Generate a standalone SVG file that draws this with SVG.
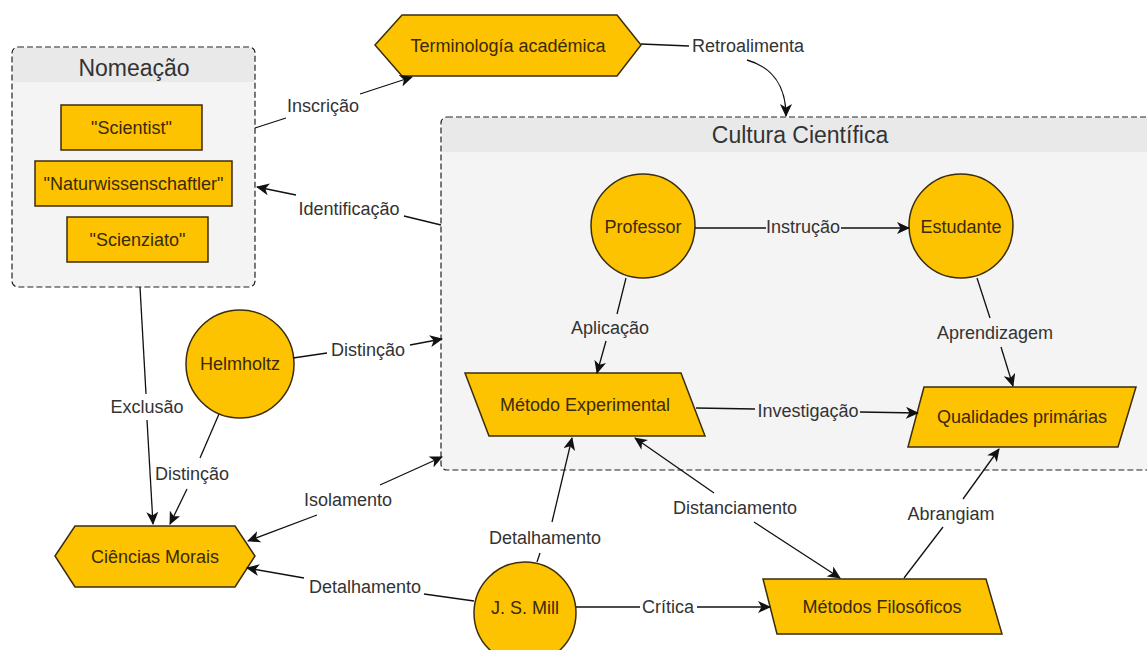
<svg xmlns="http://www.w3.org/2000/svg" width="1147" height="650" viewBox="0 0 1147 650">
<style>
.grp{fill:#f4f4f4;stroke:#222;stroke-width:1.2;stroke-dasharray:6 3}
.hdr{fill:#e9e9e9}
.title{font-family:"Liberation Sans",Arial,sans-serif;font-size:23px;fill:#333;text-anchor:middle}
.node{fill:#fdc300;stroke:#3a2d10;stroke-width:1.5}
.nt{font-family:"Liberation Sans",Arial,sans-serif;font-size:18px;fill:#3a2a08;text-anchor:middle;dominant-baseline:central}
.lbl{font-family:"Liberation Sans",Arial,sans-serif;font-size:18px;fill:#333;text-anchor:middle;dominant-baseline:central}
.e{fill:none;stroke:#111;stroke-width:1.3}
.a{marker-end:url(#arr)}
.s{marker-start:url(#arrs)}
</style>
<defs>
<marker id="arr" markerUnits="userSpaceOnUse" markerWidth="14" markerHeight="12" refX="12" refY="6" orient="auto"><path d="M0,0 L13,6 L0,12 L3.5,6 z" fill="#111"/></marker>
<marker id="arrs" markerUnits="userSpaceOnUse" markerWidth="14" markerHeight="12" refX="12" refY="6" orient="auto-start-reverse"><path d="M0,0 L13,6 L0,12 L3.5,6 z" fill="#111"/></marker>
</defs>
<rect width="1147" height="650" fill="#ffffff"/>

<g id="nomeacao">
<rect class="grp" x="12" y="47" width="243" height="240" rx="6"/>
<path class="hdr" d="M13,82 V53 Q13,48 18,48 H249 Q254,48 254,53 V82 Z"/>
<text class="title" x="134" y="76">Nomeação</text>
</g>
<g id="scientist"><rect class="node" x="61" y="105" width="141" height="45"/><text class="nt" x="131.5" y="127.5">"Scientist"</text></g>
<g id="naturwissenschaftler"><rect class="node" x="35" y="161" width="197" height="45"/><text class="nt" x="133.5" y="183.5">"Naturwissenschaftler"</text></g>
<g id="scienziato"><rect class="node" x="67" y="217" width="141" height="45"/><text class="nt" x="137.5" y="239.5">"Scienziato"</text></g>

<g id="cultura">
<rect class="grp" x="441" y="117" width="720" height="353" rx="6"/>
<path class="hdr" d="M442,152 V123 Q442,118 447,118 H1147 V152 Z"/>
<text class="title" x="800" y="143">Cultura Científica</text>
</g>

<g id="terminologia"><polygon class="node" points="375,45 402,15 617,15 641,45 617,76 402,76"/><text class="nt" x="508" y="46">Terminología académica</text></g>
<g id="professor"><circle class="node" cx="643" cy="226" r="52"/><text class="nt" x="643" y="227">Professor</text></g>
<g id="estudante"><circle class="node" cx="961" cy="226" r="52"/><text class="nt" x="961" y="227">Estudante</text></g>
<g id="metodo-experimental"><polygon class="node" points="465,373 681,373 705,436 489,436"/><text class="nt" x="585" y="405">Método Experimental</text></g>
<g id="qualidades"><polygon class="node" points="924,387 1136,387 1118,447 908,447"/><text class="nt" x="1022" y="417">Qualidades primárias</text></g>
<g id="helmholtz"><circle class="node" cx="240" cy="364" r="54"/><text class="nt" x="240" y="364">Helmholtz</text></g>
<g id="ciencias-morais"><polygon class="node" points="55,556 75,526 235,526 255,556 235,587 75,587"/><text class="nt" x="155" y="557">Ciências Morais</text></g>
<g id="mill"><circle class="node" cx="525" cy="613" r="51"/><text class="nt" x="525" y="608">J. S. Mill</text></g>
<g id="metodos-filosoficos"><polygon class="node" points="763,579 986,579 1002,634 777,634"/><text class="nt" x="882" y="607">Métodos Filosóficos</text></g>

<g id="connectors">
<path class="e" d="M255,128 L286,118"/><path class="e a" d="M360,94 L412,77"/>
<text class="lbl" x="323" y="106">Inscrição</text>

<path class="e" d="M441,225 L404,216"/><path class="e a" d="M296,195 L257,187"/>
<text class="lbl" x="349" y="209">Identificação</text>

<path class="e" d="M641,44 L689,46"/><path class="e a" d="M747,60 C772,67 786,86 786,116"/>
<text class="lbl" x="748" y="46">Retroalimenta</text>

<path class="e" d="M140,287 L146,394"/><path class="e a" d="M147,420 L153,524"/>
<text class="lbl" x="147" y="407">Exclusão</text>

<path class="e" d="M219,414 L200,458"/><path class="e a" d="M187,489 L170,524"/>
<text class="lbl" x="192" y="474">Distinção</text>

<path class="e" d="M293,358 L327,353"/><path class="e a" d="M410,345 L442,339"/>
<text class="lbl" x="368" y="350">Distinção</text>

<path class="e s" d="M248,541 L317,515"/><path class="e a" d="M380,485 L442,457"/>
<text class="lbl" x="348" y="500">Isolamento</text>

<path class="e" d="M474,601 L424,594"/><path class="e a" d="M304,578 L247,568"/>
<text class="lbl" x="365" y="587">Detalhamento</text>

<path class="e" d="M537,562 L540,553"/><path class="e a" d="M552,522 L572,438"/>
<text class="lbl" x="545" y="538">Detalhamento</text>

<path class="e" d="M576,607 L640,607"/><path class="e a" d="M697,607 L770,607"/>
<text class="lbl" x="668" y="607">Crítica</text>

<path class="e s" d="M635,438 L714,493"/><path class="e a" d="M754,522 L840,578"/>
<text class="lbl" x="735" y="508">Distanciamento</text>

<path class="e" d="M904,578 L943,527"/><path class="e a" d="M963,499 L999,449"/>
<text class="lbl" x="951" y="514">Abrangiam</text>

<path class="e" d="M626,278 L617,314"/><path class="e a" d="M606,341 L597,373"/>
<text class="lbl" x="610" y="328">Aplicação</text>

<path class="e" d="M977,278 L990,318"/><path class="e a" d="M1001,347 L1013,386"/>
<text class="lbl" x="995" y="333">Aprendizagem</text>

<path class="e" d="M696,408 L755,409"/><path class="e a" d="M860,412 L918,413"/>
<text class="lbl" x="808" y="411">Investigação</text>

<path class="e" d="M695,228 L766,228"/><path class="e a" d="M841,228 L909,228"/>
<text class="lbl" x="803" y="227">Instrução</text>
</g>
</svg>
